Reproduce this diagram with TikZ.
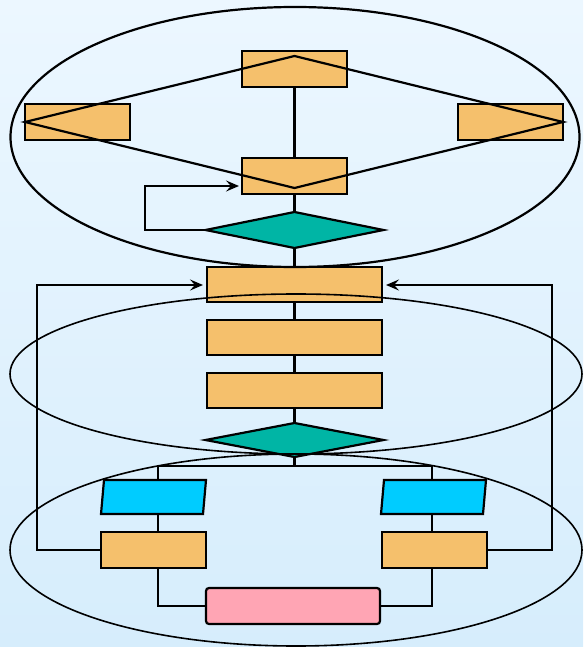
\documentclass[tikz,border=0pt]{standalone}
\usetikzlibrary{shapes.geometric,arrows.meta}
\definecolor{bgtop}{RGB}{236,247,255}
\definecolor{bgbot}{RGB}{214,237,252}
\definecolor{boxor}{RGB}{245,192,108}
\definecolor{teal}{RGB}{0,181,165}
\definecolor{cyanb}{RGB}{0,204,255}
\definecolor{pinkb}{RGB}{255,165,180}
\tikzset{
  obox/.style={draw=black,line width=2.2pt,fill=boxor,minimum width=105pt,minimum height=36pt,inner sep=0pt,outer sep=0pt},
  wbox/.style={obox,minimum width=175pt,minimum height=35pt},
  dia/.style={diamond,draw=black,line width=2.2pt,fill=teal,minimum width=178pt,minimum height=36pt,inner sep=0pt,outer sep=0pt},
  parab/.style={minimum width=105pt,minimum height=34pt,inner sep=0pt,outer sep=0pt},
  parad/.style={draw=black,line width=2.2pt,fill=cyanb,line join=miter},
  pbox/.style={draw=black,line width=2.2pt,fill=pinkb,rounded corners=3pt,minimum width=174pt,minimum height=36pt,inner sep=0pt,outer sep=0pt},
  conn/.style={draw=black,line width=2.2pt},
  arr/.style={conn,-{Stealth[length=13pt,width=11pt,inset=5pt]}},
  ell/.style={draw=black,line width=1.6pt},
}
\begin{document}
\begin{tikzpicture}[x=1pt,y=-1pt]
\shade[top color=bgtop,bottom color=bgbot] (0,0) rectangle (583,647);
\useasboundingbox (0,0) rectangle (583,647);
% nodes
\node[obox] (t1) at (294.5,69) {};
\node[obox] (tl) at (77.5,122) {};
\node[obox] (tr) at (510.5,122) {};
\node[obox] (t2) at (294.5,176) {};
\node[dia] (d1) at (294.5,230) {};
\node[wbox] (A) at (294.5,284.5) {};
\node[wbox] (B) at (294.5,337.5) {};
\node[wbox] (C) at (294.5,390.5) {};
\node[dia,minimum height=34pt] (d2) at (294.5,440) {};
\node[parab] (pl) at (153.5,497) {};
\node[parab] (pr) at (433.5,497) {};
\path[parad] ([xshift=3pt]pl.north west) -- (pl.north east) -- ([xshift=-3pt]pl.south east) -- (pl.south west) -- cycle;
\path[parad] ([xshift=3pt]pr.north west) -- (pr.north east) -- ([xshift=-3pt]pr.south east) -- (pr.south west) -- cycle;
\node[obox] (bl) at (153.5,550) {};
\node[obox] (br) at (434.5,550) {};
\node[pbox] (pk) at (293,606) {};
% coordinates
\coordinate (peak) at (294.5,56);
\coordinate (vall) at (294.5,188);
\coordinate (loopa) at (145,230);
\coordinate (loopb) at (145,186);
\coordinate (jc) at (294.5,466);
\coordinate (jl) at (158,466);
\coordinate (jr) at (432,466);
\coordinate (fl) at (37,550);
\coordinate (fr) at (552,550);
% top section lines
\draw[conn,line join=miter] (peak) -- (tl.west) -- (vall) -- (tr.east) -- cycle;
\draw[conn] (t1.south) -- (t2.north);
\draw[conn] (t2.south) -- (d1.north);
\draw[arr] (d1.west) -- (loopa) -- (loopb) -- ([xshift=-3pt]t2.west |- loopb);
\draw[conn] (d1.south) -- (A.north);
\draw[conn] (A.south) -- (B.north);
\draw[conn] (B.south) -- (C.north);
\draw[conn] (C.south) -- (d2.north);
% bottom branch
\draw[conn] (d2.south) -- (jc);
\draw[conn] (jl |- pl.north) -- (jl) -- (jr) -- (jr |- pr.north);
\draw[conn] (jl |- pl.south) -- (jl |- bl.north);
\draw[conn] (jr |- pr.south) -- (jr |- br.north);
\draw[conn] (jl |- bl.south) -- (jl |- pk.west) -- (pk.west);
\draw[conn] (jr |- br.south) -- (jr |- pk.east) -- (pk.east);
% feedback arrows
\draw[arr] (bl.west) -- (fl) -- (fl |- 0,285) -- ([xshift=-4pt]A.west |- 0,285);
\draw[arr] (br.east) -- (fr) -- (fr |- 0,285) -- ([xshift=4pt]A.east |- 0,285);
% ellipses
\draw[ell,line width=2.2pt] (295,137) ellipse [x radius=284.5, y radius=130];
\draw[ell] (296,374) ellipse [x radius=286, y radius=80];
\draw[ell] (296,550) ellipse [x radius=286, y radius=96];
\end{tikzpicture}
\end{document}
